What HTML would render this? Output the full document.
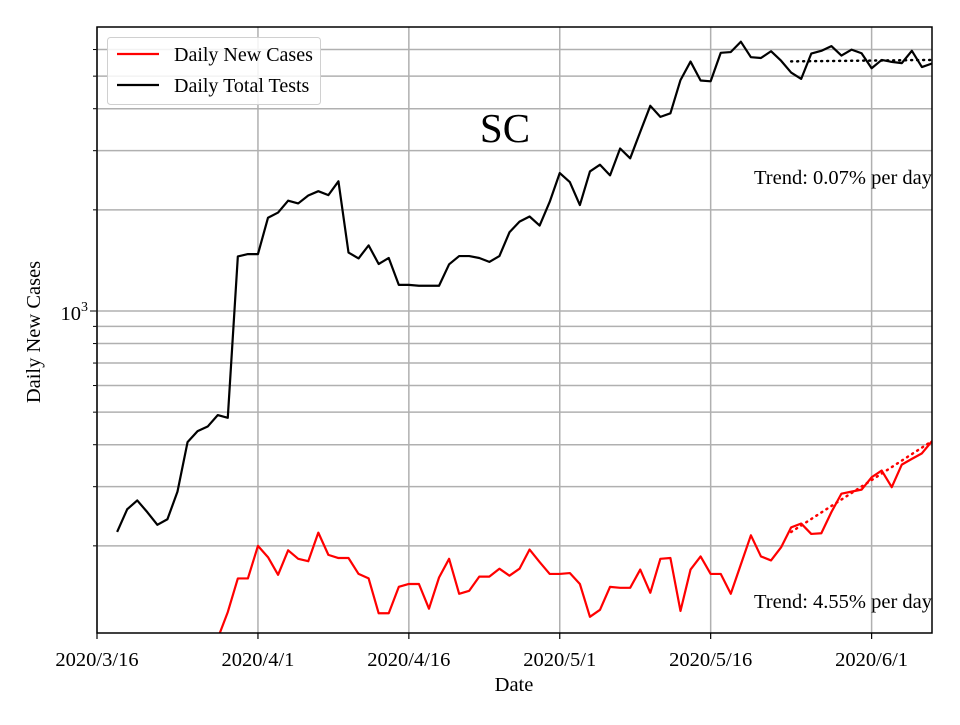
<!DOCTYPE html>
<html><head><meta charset="utf-8"><style>
body{margin:0;background:#fff}
svg text{font-family:"Liberation Serif",serif}
</style></head><body>
<svg id="chart" width="960" height="720" viewBox="0 0 960 720">
<rect width="960" height="720" fill="#fff"/>
</svg>
<script>
const testDays = [2,3,4,5,6,7,8,9,10,11,12,13,14,15,16,17,18,19,20,21,22,23,24,25,26,27,28,29,30,31,32,33,34,35,36,37,38,39,40,41,42,43,44,45,46,47,48,49,50,51,52,53,54,55,56,57,58,59,60,61,62,63,64,65,66,67,68,69,70,71,72,73,74,75,76,77,78,79,80,81,82,83];
const testValues = [220,257,273,252,231,240,290,407,439,453,490,481,1453,1477,1477,1895,1963,2130,2090,2206,2273,2212,2432,1493,1434,1568,1380,1438,1196,1196,1189,1189,1189,1377,1457,1457,1438,1400,1457,
1715,1845,1911,1796,2113,2574,2419,2067,2602,2725,2533,3045,2847,3413,4080,3782,3876,4866,5526,4854,4827,5866,5898,6331,5694,5663,5931,5557,5124,4907,5835,5947,6144,5756,5996,5850,5279,5587,5513,5467,5947,5321,5453];
const caseStartDay = 12;
const caseValues = [106,127,160,160,200,185,164,194,183,180,219,188,184,184,165,160,126,126,151,154,154,130,161,183,144,147,162,162,171,
163,171,195,179,165,165,166,154,123,129,151,150,150,170,145,183,184,128,170,186,165,165,144,176,215,186,181,198,227,233,217,218,252,286,290,294,320,335,299,349,363,377,410];
const trendStartDay = 69, trendEndDay = 83;
const testTrendEnd = 5587, testTrendRate = 0.0007;
const caseTrendEnd = 410, caseTrendRate = 0.0455;
const xTickLabels = ["2020/3/16","2020/4/1","2020/4/16","2020/5/1","2020/5/16","2020/6/1"];
const xTickDays = [0,16,31,46,61,77];
const yGridValues = [200,300,400,500,600,700,800,900,1000,2000,3000,4000,5000,6000];

const NS="http://www.w3.org/2000/svg";
const svg=document.getElementById('chart');
const L=97,R=932,T=27,B=633;
const xs=d=>L+d*10.06;
const ys=v=>311-336*Math.log10(v/1000);
function mk(tag,attrs,parent){const e=document.createElementNS(NS,tag);for(const k in attrs)e.setAttribute(k,attrs[k]);(parent||svg).appendChild(e);return e;}

const clip=mk('clipPath',{id:'pc'});mk('rect',{x:L,y:T,width:R-L,height:B-T},clip);
const grid=mk('g',{});


yGridValues.forEach(v=>{const y=ys(v);
 const l=mk('line',{x1:L,x2:R,y1:y,y2:y,stroke:'#b0b0b0','stroke-width':1.5},grid);
 
 
 const t=mk('line',{x1:L-(v===1000?7:4),x2:L,y1:y,y2:y,stroke:'#000','stroke-width':1},grid);
 
 
});
xTickDays.forEach((d,i)=>{const x=xs(d);
 const l=mk('line',{x1:x,x2:x,y1:T,y2:B,stroke:'#b0b0b0','stroke-width':1.5},grid);
 
 
 const t=mk('line',{x1:x,x2:x,y1:B,y2:B+6,stroke:'#000','stroke-width':1.2},grid);
 
 
 const tx=mk('text',{x:x,y:B+33,'text-anchor':'middle','font-size':20.5});
 tx.textContent=xTickLabels[i];
 
 
});
const plot=mk('g',{'clip-path':'url(#pc)'});
function line(pts,color,dash,name){
 const p=mk('polyline',{points:pts.map(q=>q.join(',')).join(' '),fill:'none',stroke:color,'stroke-width':dash?2.5:2.2,'stroke-linejoin':'round','stroke-dasharray':dash?'1,5':'none','stroke-linecap':dash?'round':'butt'},plot);
 
 
}
line(testValues.map((v,i)=>[xs(testDays[i]),ys(v)]),'#000',false,'tests-line');
line(caseValues.map((v,i)=>[xs(caseStartDay+i),ys(v)]),'#f00',false,'cases-line');
const n=trendEndDay-trendStartDay;
line([[xs(trendStartDay),ys(testTrendEnd/Math.pow(1+testTrendRate,n))],[xs(trendEndDay),ys(testTrendEnd)]],'#000',true,'tests-trend-line');
line([[xs(trendStartDay),ys(caseTrendEnd/Math.pow(1+caseTrendRate,n))],[xs(trendEndDay),ys(caseTrendEnd)]],'#f00',true,'cases-trend-line');
const frame=mk('rect',{x:L,y:T,width:R-L,height:B-T,fill:'none',stroke:'#000','stroke-width':1.5});


</script>
<svg width="960" height="720" style="position:absolute;left:0;top:0">
<text x="88" y="320" text-anchor="end" font-size="20.5">10<tspan dy="-9" font-size="14">3</tspan></text>
<text x="40" y="332" transform="rotate(-90 40 332)" text-anchor="middle" font-size="20.5">Daily New Cases</text>
<text x="514" y="691" text-anchor="middle" font-size="20.5">Date</text>
<text x="505" y="142" text-anchor="middle" font-size="41">SC</text>
<text x="932" y="184" text-anchor="end" font-size="20.5">Trend: 0.07% per day</text>
<text x="932" y="608" text-anchor="end" font-size="20.5">Trend: 4.55% per day</text>
<g>
<rect x="107.5" y="37.5" width="213" height="67" rx="3" fill="#fff" fill-opacity="0.85" stroke="#d0d0d0" stroke-width="1"/>
<line x1="117" x2="159" y1="54" y2="54" stroke="#f00" stroke-width="2.2"/>
<text x="174" y="61" font-size="20">Daily New Cases</text>
<line x1="117" x2="159" y1="85" y2="85" stroke="#000" stroke-width="2.2"/>
<text x="174" y="92" font-size="20">Daily Total Tests</text>
</g>
</svg>
</body></html>
